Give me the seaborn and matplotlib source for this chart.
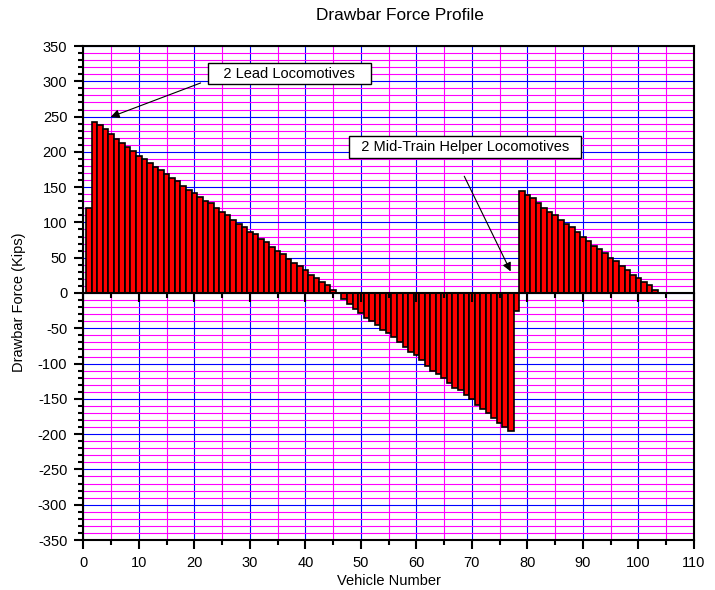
import matplotlib
matplotlib.use('Agg')
import matplotlib.pyplot as plt
from matplotlib.ticker import MultipleLocator
import seaborn as sns

# Drawbar force (kips) per vehicle
vehicle = list(range(1, 104))
force = [121, 242, 238, 232, 225, 218, 213, 207, 201, 194,
         190, 184, 179, 175, 169, 163, 158, 152, 146, 142,
         136, 131, 127, 120, 115, 110, 104, 98, 93, 87,
         83, 76, 72, 65, 59, 55, 48, 43, 38, 32,
         26, 21, 16, 11, 4, 0, -9, -15, -22, -28,
         -35, -40, -45, -52, -57, -62, -69, -76, -83, -88,
         -95, -103, -110, -115, -121, -127, -134, -138, -145, -150,
         -158, -165, -170, -177, -184, -190, -196, -26, 145, 139,
         134, 127, 121, 115, 110, 104, 98, 93, 86, 80,
         73, 67, 62, 56, 50, 45, 38, 33, 26, 21,
         16, 11, 4]

notes = ['2 Lead Locomotives', '2 Mid-Train Helper Locomotives']

plt.rcParams['font.family'] = ['Liberation Sans', 'DejaVu Sans']
plt.rcParams['axes.unicode_minus'] = False

W, H = 715, 590
fig = plt.figure(figsize=(W / 100, H / 100), dpi=100)
ax = fig.add_axes([83.3 / W, 1 - 540 / H, (694 - 83.3) / W, (540 - 46) / H])

sns.barplot(x=vehicle, y=force, native_scale=True, width=1.0, color='red',
            saturation=1, edgecolor='black', linewidth=1.2, errorbar=None, ax=ax)

ax.set_xlim(0, 110)
ax.set_ylim(-350, 350)
ax.xaxis.set_major_locator(MultipleLocator(10))
ax.xaxis.set_minor_locator(MultipleLocator(5))
ax.yaxis.set_major_locator(MultipleLocator(50))
ax.yaxis.set_minor_locator(MultipleLocator(10))

ax.set_axisbelow(True)
ax.grid(which='minor', color='#ff00ff', lw=0.8)
ax.grid(which='major', color='#0000ff', lw=0.8)

for s in ax.spines.values():
    s.set_linewidth(1.5)
    s.set_color('black')
ax.tick_params(which='major', length=6.5, width=1.5, labelsize=10.5, pad=5)
ax.tick_params(which='minor', length=3.3, width=1.5)
ax.set_xlabel('')
ax.set_ylabel('')

# axis line through zero with downward ticks
zero = ax.secondary_xaxis(0.5)
zero.xaxis.set_major_locator(MultipleLocator(10))
zero.xaxis.set_minor_locator(MultipleLocator(5))
zero.tick_params(which='both', direction='in', labeltop=False, width=1.5)
zero.tick_params(which='major', length=6.5)
zero.tick_params(which='minor', length=3.3)
zero.spines['top'].set_linewidth(1.5)
zero.set_zorder(5)

# annotations
ax.annotate('', xy=(4.45, 248), xytext=(21.6, 299),
            arrowprops=dict(arrowstyle='-|>', color='black', lw=0.8, mutation_scale=13))
ax.annotate('', xy=(77.2, 27), xytext=(68.4, 169),
            arrowprops=dict(arrowstyle='-|>', color='black', lw=0.8, mutation_scale=13))
box = dict(boxstyle='square,pad=0.25', fc='white', ec='black', lw=1)
ax.text(37.1, 311, '   ' + notes[0] + '   ', ha='center', va='center', fontsize=10.5, bbox=box, zorder=6)
ax.text(68.8, 206.7, '  ' + notes[1] + '  ', ha='center', va='center', fontsize=10.5, bbox=box, zorder=6)

fig.text(400 / W, 1 - 16 / H, 'Drawbar Force Profile', ha='center', va='center', fontsize=12.4)
fig.text(389 / W, 1 - 581 / H, 'Vehicle Number', ha='center', va='center', fontsize=10.5)
fig.text(19 / W, 1 - 302 / H, 'Drawbar Force (Kips)', ha='center', va='center',
         rotation=90, fontsize=10.5)

fig.savefig('out.png', dpi=100)
plt.close()
